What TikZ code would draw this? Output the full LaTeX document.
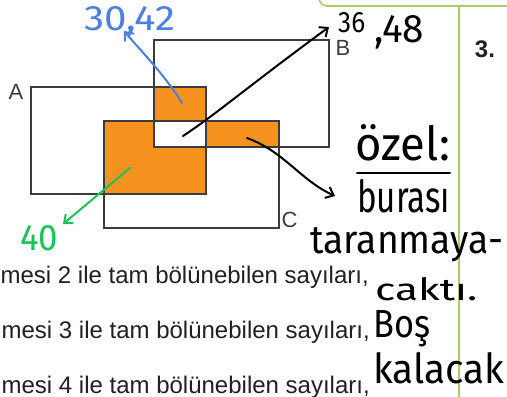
\documentclass[tikz,border=0pt]{standalone}
\usepackage{fontspec}
\setmainfont{Liberation Sans}
\newfontfamily\hwfont{Fira Sans}
\usetikzlibrary{arrows.meta}
\definecolor{orng}{RGB}{246,146,30}
\definecolor{boxgray}{RGB}{60,60,60}
\definecolor{txt}{RGB}{35,31,32}
\definecolor{pgreen}{RGB}{168,204,110}
\definecolor{hblue}{RGB}{74,128,226}
\definecolor{hgreen}{RGB}{24,196,88}
\newcommand\hw[3]{\resizebox{#1}{#2}{\hwfont #3}}
\tikzset{
  setbox/.style={draw=boxgray, line width=1.4pt},
  lbl/.style={font=\fontsize{22}{22}\selectfont, text=boxgray, inner sep=0pt},
  line/.style={font=\fontsize{24}{26}\selectfont, text=txt, inner sep=0pt, anchor=base east},
  ink/.style={line width=2pt, line cap=round, line join=round},
  hwt/.style={inner sep=0pt, anchor=base west},
  tip/.style={-{Straight Barb[length=7pt,width=12pt,line width=2pt]}}
}
\begin{document}
\begin{tikzpicture}[x=1pt,y=-1pt]
\useasboundingbox (0,0) rectangle (507,397);
\clip (0,0) rectangle (507,397);
% orange regions (exactly two sets)
\fill[orng] (154,87) rectangle (206,121);
\fill[orng] (104,121) -- (154,121) -- (154,147) -- (206,147) -- (206,194) -- (104,194) -- cycle;
\fill[orng] (206,121) rectangle (279,147);
% sets
\draw[setbox] (31,87) rectangle (206,194);
\draw[setbox] (154,40) rectangle (329,147);
\draw[setbox] (104,121) rectangle (279,228);
\node[lbl] (la) at (16,91.5) {A};
\node[lbl] (lb) at (343,48) {B};
\node[lbl] (lc) at (289.5,219.5) {C};
% page frame in green
\draw[pgreen, line width=1.6pt, rounded corners=8pt] (319,-12) -- (319,6) -- (520,6);
\draw[pgreen, line width=1.6pt] (459,7) -- (459,400);
\node[font=\bfseries\fontsize{24}{24}\selectfont, text=txt, inner sep=0pt] (q3) at (485,49.5) {3.};
% printed lines
\node[line] (l1) at (369,283) {mesi 2 ile tam bölünebilen sayıları,};
\node[line] (l2) at (370,338) {umesi 3 ile tam bölünebilen sayıları,};
\node[line] (l3) at (370,393) {umesi 4 ile tam bölünebilen sayıları,};
% handwriting: blue
\coordinate (b1) at (182,103);
\coordinate (b2) at (124,31);
\draw[ink, hblue, tip] (b1) .. controls (165,75) and (140,50) .. (b2);
\node[hwt, text=hblue] (t3042) at (84,30) {\hw{91pt}{24pt}{30,42}};
% black arrow to B
\coordinate (k1) at (183,136);
\coordinate (k2) at (329,27);
\draw[ink, black, tip] (k1) .. controls (215,115) and (250,85) .. (k2);
\node[hwt] (t36) at (338,32) {\hw{27pt}{20pt}{36}};
\node[hwt] (t48) at (374,42) {\hw{50pt}{27pt}{,48}};
% black curved arrow
\coordinate (c1) at (247,138);
\coordinate (c2) at (335,196);
\draw[ink, black, tip] (c1) .. controls (285,152) and (300,180) .. (c2);
% green arrow
\coordinate (g1) at (130,168);
\coordinate (g2) at (63,224);
\draw[ink, hgreen, tip] (g1) -- (g2);
\node[hwt, text=hgreen] (t40) at (20,250) {\hw{38pt}{25pt}{40}};
% notes
\node[hwt] (n1) at (355,160) {\hw{95pt}{36pt}{özel:}};
\coordinate (u1) at (357,173);
\coordinate (u2) at (450,173);
\draw[ink] (u1) -- (u2);
\node[hwt] (n2) at (357,212) {\hw{93pt}{33pt}{burası}};
\node[hwt] (n3) at (310,253) {\hw{193pt}{26pt}{taranmaya-}};
\node[hwt] (n4) at (375,300) {\hw{102pt}{23pt}{caktı.}};
\node[hwt] (n5) at (373,337) {\hw{57pt}{27pt}{Boş}};
\node[hwt] (n6) at (373,383) {\hw{131pt}{31pt}{kalacak}};
\end{tikzpicture}
\end{document}
